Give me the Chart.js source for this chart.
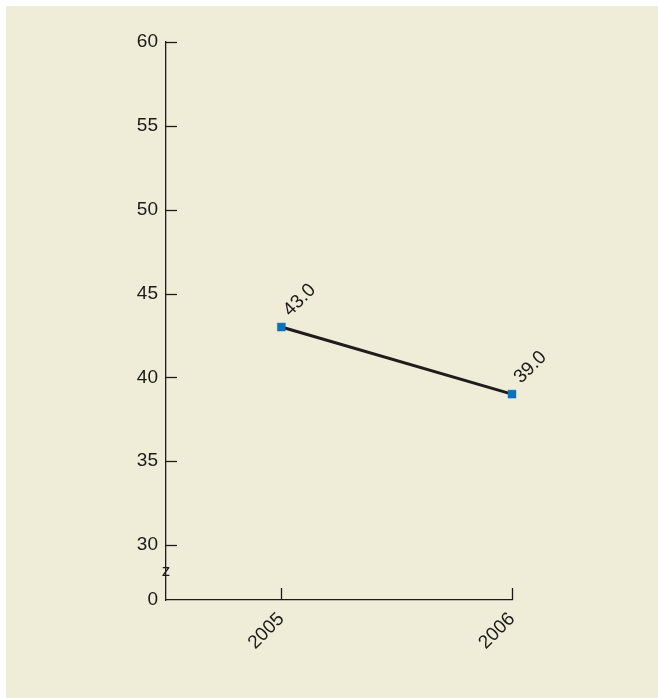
<!DOCTYPE html>
<html>
<head>
<meta charset="utf-8">
<script src="https://cdn.jsdelivr.net/npm/chart.js@4/dist/chart.umd.min.js"></script>
<style>
html,body{margin:0;padding:0;background:#fff;}
#wrap{width:658px;height:698px;position:relative;}
</style>
</head>
<body>
<div id="wrap"><canvas id="c" width="658" height="698"></canvas></div>
<script>
const years = [2005, 2006];
const values = [43.0, 39.0];
const valueLabels = ["43.0", "39.0"];
const yTickValues = [30, 35, 40, 45, 50, 55, 60];
const breakTickLabel = "0";
const breakSymbol = "z";

const yMin = 26.72;
const yMax = 60;
const xMin = 2004.5;
const xMax = 2006;
const ink = '#1c1a1a';
const fontFamily = '"Liberation Sans", Arial, sans-serif';
const fontSize = 19;

const decor = {
  id: 'decor',
  beforeDraw(chart) {
    const ctx = chart.ctx;
    ctx.save();
    ctx.fillStyle = '#ffffff';
    ctx.fillRect(0, 0, chart.width, chart.height);
    ctx.fillStyle = '#efedd7';
    ctx.fillRect(6, 6, chart.width - 6, chart.height - 6);
    ctx.restore();
  },
  afterDraw(chart) {
    const ctx = chart.ctx;
    const xs = chart.scales.x, ys = chart.scales.y;
    const left = chart.chartArea.left, bottom = chart.chartArea.bottom;
    ctx.save();
    ctx.strokeStyle = ink;
    ctx.lineWidth = 1.3;
    yTickValues.forEach(v => {
      const py = Math.round(ys.getPixelForValue(v)) + 0.5;
      ctx.beginPath();
      ctx.moveTo(left, py);
      ctx.lineTo(left + 11, py);
      ctx.stroke();
    });
    years.forEach(v => {
      const px = Math.round(xs.getPixelForValue(v)) + 0.5;
      ctx.beginPath();
      ctx.moveTo(px, bottom);
      ctx.lineTo(px, bottom - 12);
      ctx.stroke();
    });
    ctx.fillStyle = ink;
    ctx.font = '17px ' + fontFamily;
    ctx.textAlign = 'center';
    ctx.textBaseline = 'middle';
    const breakY = (ys.getPixelForValue(yMin) + ys.getPixelForValue(30)) / 2;
    ctx.fillText(breakSymbol, left, breakY - 1);
    ctx.textAlign = 'left';
    ctx.textBaseline = 'alphabetic';
    ctx.font = fontSize + 'px ' + fontFamily;
    years.forEach((yr, i) => {
      const px = xs.getPixelForValue(yr);
      const py = ys.getPixelForValue(values[i]);
      ctx.save();
      ctx.translate(px + 9, py - 10);
      ctx.rotate(-Math.PI / 4);
      ctx.fillText(valueLabels[i], 0, 0);
      ctx.restore();
    });
    ctx.restore();
  }
};

new Chart(document.getElementById('c'), {
  type: 'line',
  data: {
    datasets: [{
      data: years.map((y, i) => ({x: y, y: values[i]})),
      borderColor: '#1e1c1c',
      borderWidth: 3,
      pointStyle: 'rect',
      pointRadius: 5.6,
      pointBackgroundColor: '#0a72bb',
      pointBorderColor: '#0a72bb',
      pointBorderWidth: 0.5,
      tension: 0,
      clip: false
    }]
  },
  options: {
    responsive: false,
    animation: false,
    devicePixelRatio: 1,
    layout: { padding: { left: 0, top: 42, right: 146, bottom: 0 } },
    plugins: { legend: { display: false }, tooltip: { enabled: false } },
    scales: {
      x: {
        type: 'linear',
        min: xMin,
        max: xMax,
        afterBuildTicks: (s) => { s.ticks = years.map(v => ({value: v})); },
        afterFit: (s) => { s.height = 98; },
        grid: { display: true, drawOnChartArea: false, drawTicks: false },
        border: { display: true, color: ink, width: 1.3 },
        ticks: {
          color: ink,
          font: { family: fontFamily, size: fontSize },
          minRotation: 45,
          maxRotation: 45,
          padding: 8,
          callback: (v) => String(v)
        }
      },
      y: {
        type: 'linear',
        min: yMin,
        max: yMax,
        afterBuildTicks: (s) => { s.ticks = [{value: yMin}].concat(yTickValues.map(v => ({value: v}))); },
        afterFit: (s) => { s.width = 166; },
        grid: { display: true, drawOnChartArea: false, drawTicks: false },
        border: { display: true, color: ink, width: 1.3 },
        ticks: {
          color: ink,
          font: { family: fontFamily, size: fontSize },
          padding: 8,
          callback: (v) => (v === yMin ? breakTickLabel : String(v))
        }
      }
    }
  },
  plugins: [decor]
});
</script>
</body>
</html>
